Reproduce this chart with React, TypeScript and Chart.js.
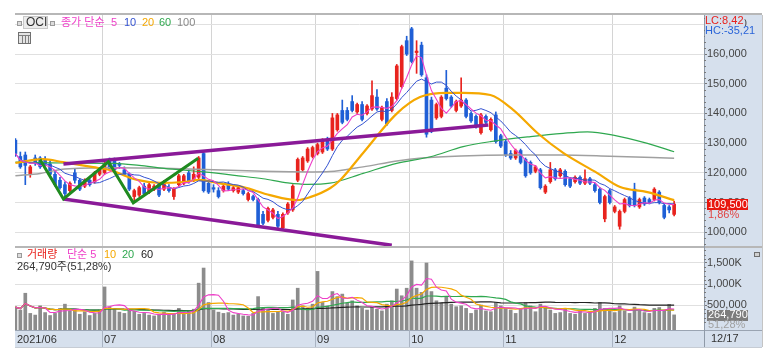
import React, { useEffect, useRef } from 'react';
import { Chart, registerables } from 'chart.js';

Chart.register(...registerables);

// ---------------- data ----------------
const MONTH_LABELS = ['2021/06', '07', '08', '09', '10', '11', '12'];
const MONTH_START_INDEX = [0, 18, 40, 61, 80, 99, 121];
const LAST_DATE_LABEL = '12/17';

const OPEN = [
  131000, 125500, 126000, 119500, 125000, 125000, 124500, 123000, 119500, 117500,
  116000, 114000, 120000, 117500, 115500, 117500, 117000, 119500, 120000, 124000,
  124000, 123000, 121000, 119500, 112000, 112500, 115500, 113500, 114500, 116000,
  114500, 115000, 112000, 116000, 116500, 120000, 117500, 118500, 126500, 116500,
  115000, 114000, 114000, 116000, 114000, 113500, 114000, 111000, 112000, 111000,
  106000, 104000, 105000, 106000, 101500, 106500, 107500, 117500, 121000, 124000,
  125500, 126500, 127000, 131000, 128000, 134500, 141000, 141000, 144000, 140500,
  143000, 140000, 141500, 145500, 138000, 144000, 141000, 145000, 149000, 164500,
  168500, 160500, 163000, 152000, 144500, 138500, 139000, 148500, 145500, 141000,
  142500, 144500, 140000, 139000, 133500, 139000, 134500, 139500, 132500, 130500,
  126500, 125000, 127500, 124500, 123500, 120500, 121000, 113500, 117000, 121000,
  119000, 120500, 118000, 117000, 118500, 116500, 118000, 116000, 114500, 104500,
  114000, 107000, 102000, 107000, 111500, 114500, 108500, 111500, 111000, 111000,
  113500, 109000, 108500, 106000,
];
const HIGH = [
  131500, 127000, 127000, 122500, 126000, 125500, 125500, 124000, 120500, 118500,
  117000, 117000, 121500, 118000, 118000, 118500, 120500, 121500, 124500, 125000,
  125000, 123500, 122000, 120000, 114500, 115500, 116500, 116500, 116000, 116500,
  117500, 116000, 115000, 119500, 119500, 121000, 122000, 125500, 127500, 117500,
  116000, 115000, 116000, 117000, 115500, 115500, 114500, 113500, 112500, 111500,
  107000, 108500, 108000, 107000, 106500, 110000, 116000, 125000, 125500, 128500,
  129000, 130000, 131500, 132000, 140000, 140000, 144500, 142000, 146000, 143500,
  144000, 143000, 151000, 148000, 142500, 145000, 147000, 156500, 163000, 166000,
  169000, 164500, 164000, 153000, 145500, 143500, 146000, 154500, 146000, 144500,
  152000, 145000, 140500, 139500, 140000, 139500, 138500, 140500, 133000, 131000,
  127500, 128000, 128000, 125000, 124000, 122500, 121500, 116000, 123500, 121500,
  121500, 121000, 118500, 119000, 119000, 121000, 118500, 116500, 115000, 112500,
  114500, 109000, 107500, 111500, 112000, 116500, 111500, 112000, 111500, 115000,
  114000, 109500, 109000, 110500,
];
const LOW = [
  125500, 121500, 116000, 118500, 122500, 121500, 122500, 119000, 115500, 114500,
  111500, 113000, 116500, 114000, 115000, 115500, 116500, 119000, 119500, 121000,
  120500, 121500, 119000, 114000, 110000, 112000, 112500, 113000, 114000, 112000,
  114000, 113500, 111000, 115500, 116000, 116500, 117000, 118000, 113500, 113000,
  113500, 111500, 113500, 114000, 113500, 113000, 112500, 110500, 110500, 101500,
  102500, 103500, 104500, 101500, 101000, 106000, 107000, 117000, 120500, 123500,
  125000, 126000, 126500, 127500, 127500, 134000, 136500, 137500, 140500, 140000,
  137500, 139500, 141000, 141000, 137500, 136000, 140500, 144500, 148500, 159500,
  157000, 153500, 152500, 132000, 133500, 138000, 138500, 144500, 142000, 140500,
  142000, 138500, 137000, 135000, 133000, 136500, 134000, 130000, 128500, 125500,
  124500, 124500, 123000, 118500, 119500, 120000, 114500, 113000, 116500, 117500,
  118500, 115500, 115000, 116500, 116000, 116000, 116000, 113500, 109500, 103500,
  109500, 106500, 101000, 106500, 108500, 108500, 108000, 109000, 109500, 110500,
  109500, 104500, 106500, 105500,
];
const CLOSE = [
  126500, 122000, 122500, 122000, 123500, 122000, 123000, 119500, 116000, 115000,
  113000, 116500, 117500, 114500, 117500, 116000, 120000, 121000, 123000, 121500,
  121000, 122500, 119500, 114500, 114000, 115000, 113000, 116000, 115500, 112500,
  117000, 114000, 114500, 119000, 119000, 117000, 119500, 125000, 114000, 113500,
  114500, 112000, 115500, 114500, 115000, 115000, 113000, 113000, 111000, 102500,
  103000, 108000, 107500, 102000, 106000, 109500, 115500, 124500, 125000, 128000,
  128500, 129500, 131000, 128000, 138500, 139500, 137000, 138000, 141000, 143000,
  138000, 142500, 146000, 141500, 142000, 136500, 145500, 156000, 162500, 160000,
  157500, 161000, 153000, 133000, 134000, 143000, 145500, 145000, 142500, 144000,
  144500, 139000, 137500, 135500, 139500, 137000, 138000, 130500, 129000, 126000,
  125000, 127500, 123500, 119000, 120000, 122000, 115000, 115500, 121000, 118000,
  121000, 116000, 115500, 118500, 116500, 118000, 116500, 114000, 110000, 112000,
  110000, 108500, 107000, 111000, 109000, 109000, 111000, 109500, 110000, 114500,
  110000, 105000, 107500, 109500,
];
const VOLUME = [
  450000, 380000, 780000, 300000, 260000, 480000, 320000, 250000, 300000, 420000,
  520000, 360000, 400000, 280000, 340000, 250000, 300000, 380000,
  930000, 450000, 420000, 330000, 300000, 380000, 350000, 280000, 300000, 260000,
  240000, 280000, 330000, 260000, 300000, 420000, 300000, 350000, 400000, 1020000,
  1380000, 560000,
  380000, 330000, 300000, 320000, 260000, 280000, 240000, 230000, 300000, 700000,
  420000, 380000, 300000, 340000, 330000, 280000, 620000, 900000, 480000, 420000,
  520000,
  1300000, 560000, 480000, 820000, 700000, 760000, 540000, 600000, 480000, 420000,
  380000, 460000, 400000, 360000, 520000, 600000, 880000, 720000, 900000,
  1550000, 900000, 800000, 1500000, 820000, 600000, 560000, 700000, 520000, 460000,
  480000, 420000, 300000, 380000, 500000, 360000, 340000, 560000, 480000,
  420000, 380000, 300000, 420000, 560000, 480000, 340000, 520000, 460000, 380000,
  300000, 320000, 420000, 300000, 280000, 360000, 300000, 340000, 420000, 560000,
  420000, 380000,
  320000, 480000, 360000, 300000, 450000, 360000, 320000, 300000, 420000, 440000,
  380000, 516000, 264790,
];

// moving averages: [trading-day index, price]
const MA20_POINTS = [
  [0, 123300], [5.6, 124600], [9.6, 123600], [15.7, 121900], [19.1, 120900], [24.6, 117600],
  [29.2, 116600], [33.9, 116900], [37.3, 117600], [40.7, 116600], [46, 115200], [51.4, 112500],
  [56.9, 110800], [59.5, 111800], [63.6, 114900], [65.6, 117600], [70.2, 126700], [77.1, 140100],
  [81.7, 145500], [87.2, 146900], [90.4, 146900], [95.9, 146200], [100.5, 141200], [105.4, 133400],
  [110.6, 126700], [117.5, 119900], [122.1, 115200], [127.6, 113500], [133, 110800],
];
const MA60_POINTS = [
  [0, 123600], [10, 123300], [20, 123200], [25, 122500], [30, 121500], [38, 120300], [45, 119000],
  [50, 118000], [55, 116600], [59, 116100], [63.5, 116500], [70.2, 119800], [77, 123200],
  [83.8, 125400], [90.4, 128800], [95.9, 130500], [104, 132200], [110.6, 133300], [115.5, 133800],
  [120.7, 132700], [127.6, 129900], [133, 127100],
];
const MA100_POINTS = [
  [0, 119000], [5, 119800], [10, 121300], [20, 121700], [30, 121500], [40, 121000], [50, 120500],
  [60, 120300], [63.5, 120400], [70.2, 122000], [77, 124000], [82, 125000], [90, 125700],
  [100, 126000], [110, 126000], [120, 125600], [133, 124900],
];

// drawn trend lines: [index, price]
const UPPER_CHANNEL = [[9.7, 123000], [95.5, 136100]];
const LOWER_CHANNEL = [[9.7, 111200], [76, 95600]];
const ZIGZAG = [[4.97, 124500], [9.7, 111200], [18.77, 123700], [23.8, 109900], [36.9, 124900]];

const PRICE_TICKS = [100000, 110000, 120000, 130000, 140000, 150000, 160000, 170000];
const VOL_TICKS = [500000, 1000000, 1500000];
const VOL_TICK_LABELS = ['500,000', '1,000K', '1,500K'];

const LAST_PRICE = 109500;
const CHANGE_LABEL = '1,86%';
const LC_LABEL = 'LC:8,42';
const HC_LABEL = 'HC:-35,21';
const LAST_VOLUME = 264790;
const VOL_PCT_LABEL = '51,28%';
const VOL_INFO_LABEL = '264,790주(51,28%)';

// ---------------- style ----------------
const FONT = "'Liberation Sans', 'Noto Sans CJK KR', Arial, sans-serif";
const PANEL_BG = '#d6e0ed';
const UP = '#e8231e';
const DOWN = '#1f5fd6';
const C_MA5 = '#ee3fc8';
const C_MA10 = '#3452d0';
const C_MA20 = '#f5a800';
const C_MA60 = '#2fa84f';
const C_MA100 = '#a0a0a0';

const X_MIN = -0.08;
const X_MAX = 139.03;
const PRICE_MIN = 95350;
const PRICE_MAX = 173150;
const VOL_MIN = -95000;
const VOL_MAX = 1857000;

function sma(values: number[], n: number) {
  return values.map((_, i) => {
    const s = Math.max(0, i - n + 1);
    let sum = 0;
    for (let k = s; k <= i; k++) sum += values[k];
    return { x: i, y: sum / (i - s + 1) };
  });
}
const pts = (arr: number[][]) => arr.map(([x, y]) => ({ x, y }));
const monthTickValues = MONTH_START_INDEX.map((s, k) => (k === 0 ? X_MIN : s - 0.5));

function txt(ctx: any, s: string, x: number, y: number, color: string, size = 11, align = 'left') {
  ctx.font = `${size}px ${FONT}`;
  ctx.fillStyle = color;
  ctx.textAlign = align;
  ctx.textBaseline = 'middle';
  ctx.fillText(s, x, y);
}
function smallSquare(ctx: any, x: number, y: number) {
  ctx.fillStyle = '#9a9a9a';
  ctx.fillRect(x, y, 5, 5);
  ctx.fillStyle = '#dcdcdc';
  ctx.fillRect(x + 1, y + 1, 3, 3);
}

function xAxis(showLabels: boolean): any {
  return {
    type: 'linear',
    min: X_MIN,
    max: X_MAX,
    offset: false,
    afterBuildTicks: (s: any) => {
      s.ticks = monthTickValues.map((v) => ({ value: v }));
    },
    afterFit: (s: any) => {
      s.height = showLabels ? 17 : 0;
      s.paddingLeft = 0;
      s.paddingRight = 0;
    },
    grid: {
      color: (c: any) => (c.index === 0 ? 'rgba(0,0,0,0)' : '#d4d4d4'),
      drawTicks: false,
      offset: false,
      lineWidth: 1,
    },
    border: { display: false },
    ticks: {
      display: showLabels,
      autoSkip: false,
      maxRotation: 0,
      minRotation: 0,
      align: 'start',
      labelOffset: 2,
      padding: 3,
      color: '#333',
      font: { family: FONT, size: 11 },
      callback: (_v: any, i: number) => MONTH_LABELS[i],
    },
  };
}

const pricePlugin = {
  id: 'pricePanel',
  beforeDraw(chart: any) {
    const ctx = chart.ctx;
    const a = chart.chartArea;
    ctx.save();
    ctx.fillStyle = PANEL_BG;
    ctx.fillRect(a.right, 15, 762 - a.right, chart.height - 15);
    ctx.restore();
  },
  afterDraw(chart: any) {
    const ctx = chart.ctx;
    const a = chart.chartArea;
    const ys = chart.scales.y;
    ctx.save();
    ctx.fillStyle = '#b7b7b7';
    ctx.fillRect(15, 13, 747, 2);
    ctx.fillStyle = '#8f9aa8';
    ctx.fillRect(a.right, 15, 1, chart.height - 15);
    ctx.fillStyle = '#c4c4c4';
    ctx.fillRect(762, 15, 1, chart.height - 15);
    // minor ticks
    ctx.strokeStyle = '#7a7a7a';
    ctx.lineWidth = 1;
    ctx.beginPath();
    for (let v = 96000; v <= 172000; v += 2000) {
      if (v % 10000 === 0) continue;
      const y = Math.round(ys.getPixelForValue(v)) + 0.5;
      ctx.moveTo(a.right, y);
      ctx.lineTo(a.right + 2, y);
    }
    ctx.stroke();
    // LC / HC
    ctx.font = `11px ${FONT}`;
    const w1 = ctx.measureText(LC_LABEL).width;
    const w2 = ctx.measureText(HC_LABEL).width;
    ctx.fillStyle = PANEL_BG;
    ctx.fillRect(a.right + 1, 15, w1 + 1, 11);
    ctx.fillRect(a.right + 1, 26, w2 + 1, 11);
    txt(ctx, LC_LABEL, a.right + 1, 20.5, '#e8231e');
    txt(ctx, HC_LABEL, a.right + 1, 31, '#2a64d8');
    // last price tag
    const py = ys.getPixelForValue(LAST_PRICE);
    ctx.fillStyle = '#e8170f';
    ctx.fillRect(707, Math.round(py) - 5, 41, 11);
    txt(ctx, LAST_PRICE.toLocaleString('en-US'), 708, py + 0.5, '#ffffff');
    txt(ctx, CHANGE_LABEL, 708, py + 11, '#e04444');
    // legend
    smallSquare(ctx, 17, 21);
    ctx.fillStyle = '#ececec';
    ctx.fillRect(23, 16, 25, 13);
    ctx.strokeStyle = '#c8c8c8';
    ctx.strokeRect(23.5, 16.5, 24, 12);
    txt(ctx, 'OCI', 26, 23, '#333', 12);
    smallSquare(ctx, 50, 21);
    txt(ctx, '종가 단순', 61, 23, C_MA5);
    txt(ctx, '5', 111, 23, C_MA5);
    txt(ctx, '10', 124, 23, C_MA10);
    txt(ctx, '20', 142, 23, C_MA20);
    txt(ctx, '60', 159, 23, C_MA60);
    txt(ctx, '100', 177, 23, '#888');
    // grid icon
    ctx.fillStyle = '#707070';
    ctx.fillRect(18, 32, 13, 12);
    ctx.fillStyle = '#e4e4e4';
    ctx.fillRect(19, 33, 11, 10);
    ctx.fillStyle = '#808080';
    ctx.fillRect(19, 35, 11, 1);
    ctx.fillRect(22, 35, 1, 8);
    ctx.fillRect(25, 35, 1, 8);
    ctx.fillRect(28, 35, 1, 8);
    ctx.restore();
  },
};

const volPlugin = {
  id: 'volPanel',
  beforeDraw(chart: any) {
    const ctx = chart.ctx;
    const a = chart.chartArea;
    ctx.save();
    ctx.fillStyle = PANEL_BG;
    ctx.fillRect(a.right, 0, 762 - a.right, 101);
    ctx.fillRect(15, a.bottom, 747, 101 - a.bottom);
    ctx.restore();
  },
  afterDraw(chart: any) {
    const ctx = chart.ctx;
    const a = chart.chartArea;
    const ys = chart.scales.y;
    const xs = chart.scales.x;
    ctx.save();
    ctx.fillStyle = '#b7b7b7';
    ctx.fillRect(15, 0, 747, 2);
    ctx.fillStyle = '#9aa4b2';
    ctx.fillRect(15, a.bottom, 747, 1);
    ctx.fillStyle = '#c6ccd4';
    ctx.fillRect(15, 101, 747, 1);
    ctx.fillStyle = '#8f9aa8';
    ctx.fillRect(a.right, 0, 1, 101);
    ctx.fillStyle = '#c4c4c4';
    ctx.fillRect(762, 0, 1, 101);
    ctx.fillStyle = '#a9b3c2';
    for (let k = 1; k < monthTickValues.length; k++) {
      const px = Math.round(xs.getPixelForValue(monthTickValues[k]));
      ctx.fillRect(px, a.bottom, 1, 101 - a.bottom);
    }
    // minor ticks
    ctx.strokeStyle = '#7a7a7a';
    ctx.lineWidth = 1;
    ctx.beginPath();
    for (let v = 100000; v <= 1800000; v += 100000) {
      if (v % 500000 === 0) continue;
      const y = Math.round(ys.getPixelForValue(v)) + 0.5;
      ctx.moveTo(a.right, y);
      ctx.lineTo(a.right + 2, y);
    }
    ctx.stroke();
    // legend
    smallSquare(ctx, 17, 7);
    txt(ctx, '거래량', 27, 9, '#e8231e');
    txt(ctx, '단순 5', 67, 9, C_MA5);
    txt(ctx, '10', 104, 9, C_MA20);
    txt(ctx, '20', 122, 9, C_MA60);
    txt(ctx, '60', 141, 9, '#222');
    txt(ctx, VOL_INFO_LABEL, 17, 20.5, '#333');
    // icon at axis top-right
    ctx.fillStyle = '#6e6e6e';
    ctx.fillRect(754, 6, 6, 5);
    ctx.fillStyle = '#d0d0d0';
    ctx.fillRect(755, 7, 4, 3);
    // current volume tag
    const vy = ys.getPixelForValue(LAST_VOLUME);
    ctx.fillStyle = '#7d7d7d';
    ctx.fillRect(707, Math.round(vy) - 5, 41, 11);
    txt(ctx, LAST_VOLUME.toLocaleString('en-US'), 708, vy + 0.5, '#ffffff');
    txt(ctx, VOL_PCT_LABEL, 708, vy + 10, '#a0a0a0');
    // last date
    txt(ctx, LAST_DATE_LABEL, 711, 93, '#333');
    ctx.restore();
  },
};

function priceConfig(): any {
  const colors = CLOSE.map((c, i) => (c >= OPEN[i] ? UP : DOWN));
  const line = (data: any, color: string, width: number, order: number, smooth = false) => ({
    type: 'line',
    data,
    borderColor: color,
    borderWidth: width,
    pointRadius: 0,
    fill: false,
    order,
    tension: 0,
    cubicInterpolationMode: smooth ? 'monotone' : 'default',
  });
  return {
    type: 'line',
    data: {
      datasets: [
        {
          type: 'bar',
          data: CLOSE.map((_, i) => ({ x: i, y: [LOW[i], HIGH[i]] })),
          backgroundColor: colors,
          barThickness: 1,
          grouped: false,
          order: 11,
        },
        {
          type: 'bar',
          data: CLOSE.map((c, i) => ({ x: i, y: [OPEN[i], c] })),
          backgroundColor: colors,
          barThickness: 3,
          grouped: false,
          order: 10,
        },
        line(pts(MA100_POINTS), C_MA100, 1.5, 6, true),
        line(pts(MA60_POINTS), C_MA60, 1.2, 5, true),
        line(pts(MA20_POINTS), C_MA20, 2.2, 4, true),
        line(sma(CLOSE, 10), C_MA10, 1, 3),
        line(sma(CLOSE, 5), C_MA5, 1.1, 2),
        line(pts(UPPER_CHANNEL), '#8a1a98', 3.5, 1),
        line(pts(LOWER_CHANNEL), '#8a1a98', 3.5, 1),
        line(pts(ZIGZAG), '#1f8a1f', 3, 0),
      ],
    },
    options: {
      responsive: false,
      maintainAspectRatio: false,
      animation: false,
      devicePixelRatio: 1,
      events: [],
      layout: { padding: { left: 15, right: 16, top: 15, bottom: 0 } },
      plugins: { legend: { display: false }, tooltip: { enabled: false } },
      scales: {
        x: xAxis(false),
        y: {
          type: 'linear',
          position: 'right',
          min: PRICE_MIN,
          max: PRICE_MAX,
          afterBuildTicks: (s: any) => {
            s.ticks = PRICE_TICKS.map((v) => ({ value: v }));
          },
          afterFit: (s: any) => {
            s.width = 58;
            s.paddingTop = 0;
            s.paddingBottom = 0;
          },
          grid: { color: '#e0e0e0', drawTicks: true, tickLength: 3, tickColor: '#777' },
          border: { display: false },
          ticks: {
            padding: 0,
            color: '#444',
            font: { family: FONT, size: 11 },
            callback: (v: number) => v.toLocaleString('en-US'),
          },
        },
      },
    },
    plugins: [pricePlugin],
  };
}

function volConfig(): any {
  const line = (data: any, color: string, width: number, order: number) => ({
    type: 'line',
    data,
    borderColor: color,
    borderWidth: width,
    pointRadius: 0,
    fill: false,
    order,
    tension: 0,
  });
  return {
    type: 'line',
    data: {
      datasets: [
        {
          type: 'bar',
          data: VOLUME.map((v, i) => ({ x: i, y: [VOL_MIN, v] })),
          backgroundColor: '#8c8c8c',
          barThickness: 3,
          grouped: false,
          order: 10,
        },
        line(sma(VOLUME, 60), '#222222', 1.2, 4),
        line(sma(VOLUME, 20), C_MA60, 1.2, 3),
        line(sma(VOLUME, 10), C_MA20, 1.2, 2),
        line(sma(VOLUME, 5), C_MA5, 1.1, 1),
      ],
    },
    options: {
      responsive: false,
      maintainAspectRatio: false,
      animation: false,
      devicePixelRatio: 1,
      events: [],
      layout: { padding: { left: 15, right: 16, top: 2, bottom: 6 } },
      plugins: { legend: { display: false }, tooltip: { enabled: false } },
      scales: {
        x: xAxis(true),
        y: {
          type: 'linear',
          position: 'right',
          min: VOL_MIN,
          max: VOL_MAX,
          afterBuildTicks: (s: any) => {
            s.ticks = VOL_TICKS.map((v) => ({ value: v }));
          },
          afterFit: (s: any) => {
            s.width = 58;
            s.paddingTop = 0;
            s.paddingBottom = 0;
          },
          grid: { color: '#e0e0e0', drawTicks: true, tickLength: 3, tickColor: '#777' },
          border: { display: false },
          ticks: {
            padding: 0,
            color: '#444',
            font: { family: FONT, size: 11 },
            callback: (_v: number, i: number) => VOL_TICK_LABELS[i],
          },
        },
      },
    },
    plugins: [volPlugin],
  };
}

export default function App() {
  const priceRef = useRef<HTMLCanvasElement>(null);
  const volRef = useRef<HTMLCanvasElement>(null);
  useEffect(() => {
    const c1 = new Chart(priceRef.current as HTMLCanvasElement, priceConfig());
    const c2 = new Chart(volRef.current as HTMLCanvasElement, volConfig());
    return () => {
      c1.destroy();
      c2.destroy();
    };
  }, []);
  return (
    <div style={{ position: 'absolute', left: 0, top: 0, width: 778, height: 353, background: '#ffffff' }}>
      <canvas ref={priceRef} width={778} height={246} style={{ position: 'absolute', left: 0, top: 0 }} />
      <canvas ref={volRef} width={778} height={107} style={{ position: 'absolute', left: 0, top: 246 }} />
    </div>
  );
}
